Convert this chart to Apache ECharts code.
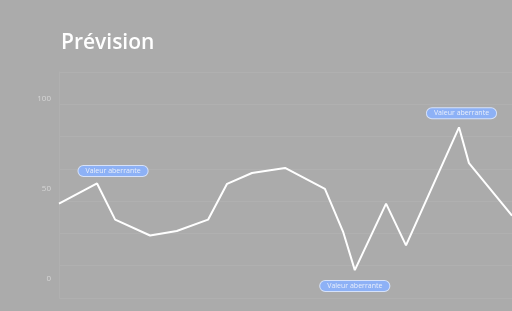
<!DOCTYPE html>
<html>
<head>
<meta charset="utf-8">
<script src="https://cdn.jsdelivr.net/npm/echarts@6/dist/echarts.min.js"></script>
<style>
  html, body { margin: 0; padding: 0; background: #ababab; }
  #main { width: 512px; height: 311px; }
</style>
</head>
<body>
<div id="main"></div>
<script>
// x position of each observation (arbitrary time units) and its value
var xValues = [0, 8.4, 12.4, 20.1, 26.0, 32.9, 37.1, 42.6, 49.9, 58.7, 62.7, 65.3, 72.2, 76.6, 88.3, 90.5, 100];
var yValues = [41.9, 53.1, 33.0, 24.2, 26.7, 33.0, 52.9, 58.9, 61.7, 50.1, 26.4, 5.0, 41.9, 18.7, 84.3, 64.4, 35.2];
var yLabels = [0, 50, 100];
// index of the outliers flagged on the chart
var outliers = [1, 11, 14];
var outlierText = 'Valeur aberrante';

var yMin = -10.5, yMax = 115;

var labelOffsets = [[16, -12.5], [0, 16], [2.5, -14]];

var myChart = echarts.init(document.getElementById('main'));
myChart.setOption({
    backgroundColor: '#ababab',
    animation: false,
    title: {
        text: 'Prévision',
        left: 56,
        top: 28,
        textStyle: {
            color: '#ffffff',
            fontFamily: 'Open Sans',
            fontWeight: 600,
            fontSize: 21
        }
    },
    grid: { left: 59, right: 0, top: 72, bottom: 13 },
    xAxis: {
        type: 'value',
        min: 0,
        max: 100,
        axisLine: { show: false },
        axisTick: { show: false },
        axisLabel: { show: false },
        splitLine: { show: false }
    },
    yAxis: {
        type: 'value',
        min: yMin,
        max: yMax,
        interval: (yMax - yMin) / 7,
        axisLine: { show: true, lineStyle: { color: '#b0b0b0', width: 1 } },
        axisTick: { show: false },
        axisLabel: {
            customValues: yLabels,
            color: '#d6d6d6',
            fontSize: 8,
            fontFamily: 'Open Sans',
            margin: 8
        },
        splitLine: { show: true, lineStyle: { color: '#b0b0b0', width: 1 } }
    },
    series: [{
        type: 'line',
        data: xValues.map(function (x, i) { return [x, yValues[i]]; }),
        showSymbol: false,
        lineStyle: { color: '#ffffff', width: 2 },
        itemStyle: { color: '#ffffff' },
        markPoint: {
            symbol: 'circle',
            symbolSize: 1,
            itemStyle: { color: 'rgba(0,0,0,0)' },
            label: {
                show: true,
                position: 'inside',
                formatter: outlierText,
                color: '#e8eefb',
                fontSize: 7,
                fontFamily: 'Open Sans',
                backgroundColor: '#8db1f6',
                borderColor: '#d6e2fa',
                borderWidth: 1,
                borderRadius: 6,
                padding: [2, 7, 1, 7]
            },
            data: outliers.map(function (idx, k) {
                return {
                    coord: [xValues[idx], yValues[idx]],
                    label: { offset: labelOffsets[k] }
                };
            })
        }
    }]
});
</script>
</body>
</html>
